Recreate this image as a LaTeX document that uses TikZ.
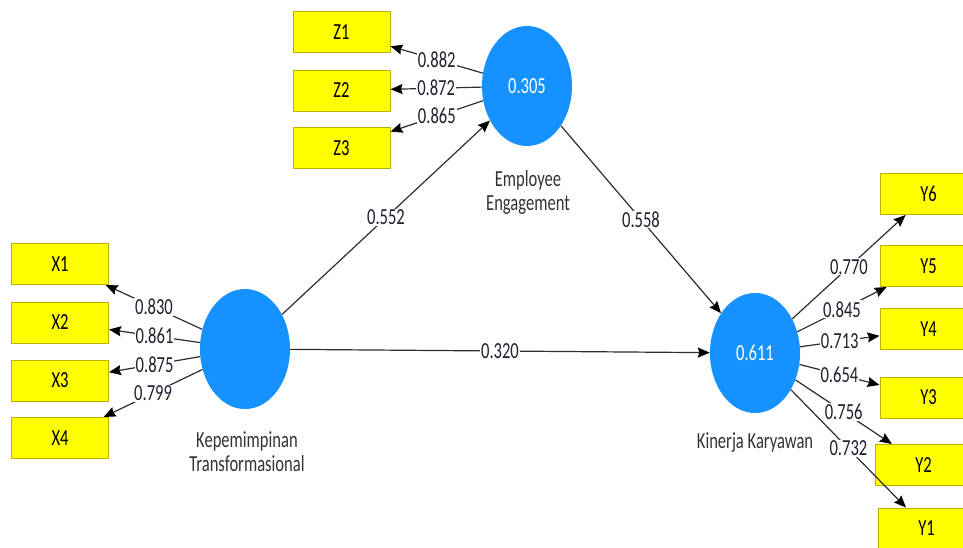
\documentclass[tikz,border=0pt]{standalone}
\usepackage{fontspec}
\setmainfont{Carlito}[FakeStretch=0.72]
\usetikzlibrary{shapes.geometric,arrows.meta}
\definecolor{boxyellow}{HTML}{FFFF00}
\definecolor{boxedge}{HTML}{BFB000}
\definecolor{lvblue}{HTML}{1592FF}
\definecolor{linegray}{HTML}{2E2E2E}
\definecolor{txtgray}{HTML}{333333}
\definecolor{coeftxt}{HTML}{202030}
\begin{document}
\begin{tikzpicture}[x=1pt,y=-1pt,
  font=\fontsize{23}{24}\selectfont,
  ind/.style={draw=boxedge, fill=boxyellow, line width=1pt, minimum width=97pt, minimum height=41pt, inner sep=0pt, text=black},
  lv/.style={ellipse, fill=lvblue, minimum width=90pt, minimum height=120pt, inner sep=0pt, text=white},
  lvname/.style={text=txtgray, align=center},
  arr/.style={draw=linegray, line width=1.2pt, -{Stealth[length=12pt,width=10pt,inset=1.5pt,black]}},
  coef/.style={fill=white, inner sep=1pt, text=coeftxt}
]
\useasboundingbox (0,0) rectangle (963,547);
\fill[white] (0,0) rectangle (963,547);

% indicators
\node[ind] (Z1) at (341.5,32) {Z1};
\node[ind] (Z2) at (341.5,90.5) {Z2};
\node[ind] (Z3) at (341.5,148) {Z3};
\node[ind] (X1) at (60,264) {X1};
\node[ind] (X2) at (60,322.5) {X2};
\node[ind] (X3) at (60,380.5) {X3};
\node[ind] (X4) at (60,438) {X4};
\node[ind] (Y6) at (928.5,194) {Y6};
\node[ind] (Y5) at (928.5,266) {Y5};
\node[ind] (Y4) at (928.5,329) {Y4};
\node[ind] (Y3) at (928.5,397.5) {Y3};
\node[ind] (Y2) at (923.5,465) {Y2};
\node[ind] (Y1) at (926.5,528.5) {Y1};

% latent variables
\node[lv] (EE) at (527,86) {0.305};
\node[lv] (KT) at (245,349) {};
\node[lv] (KK) at (755,353) {0.611};

\node[lvname] (EEn) at (528,192) {Employee\\Engagement};
\node[lvname] (KTn) at (247,452) {Kepemimpinan\\Transformasional};
\node[lvname] (KKn) at (755,443) {Kinerja Karyawan};

% outer loadings
\draw[arr] (EE) -- node[coef]{0.882} (Z1);
\draw[arr] (EE) -- node[coef]{0.872} (Z2);
\draw[arr] (EE) -- node[coef]{0.865} (Z3);
\draw[arr] (KT) -- node[coef]{0.830} (X1);
\draw[arr] (KT) -- node[coef]{0.861} (X2);
\draw[arr] (KT) -- node[coef]{0.875} (X3);
\draw[arr] (KT) -- node[coef]{0.799} (X4);
\draw[arr] (KK) -- node[coef]{0.770} (Y6);
\draw[arr] (KK) -- node[coef]{0.845} (Y5);
\draw[arr] (KK) -- node[coef]{0.713} (Y4);
\draw[arr] (KK) -- node[coef]{0.654} (Y3);
\draw[arr] (KK) -- node[coef]{0.756} (Y2);
\draw[arr] (KK) -- node[coef]{0.732} (Y1);

% structural paths
\draw[arr] (KT) -- node[coef]{0.552} (EE);
\draw[arr] (EE) -- node[coef]{0.558} (KK);
\draw[arr] (KT) -- node[coef]{0.320} (KK);
\end{tikzpicture}
\end{document}
